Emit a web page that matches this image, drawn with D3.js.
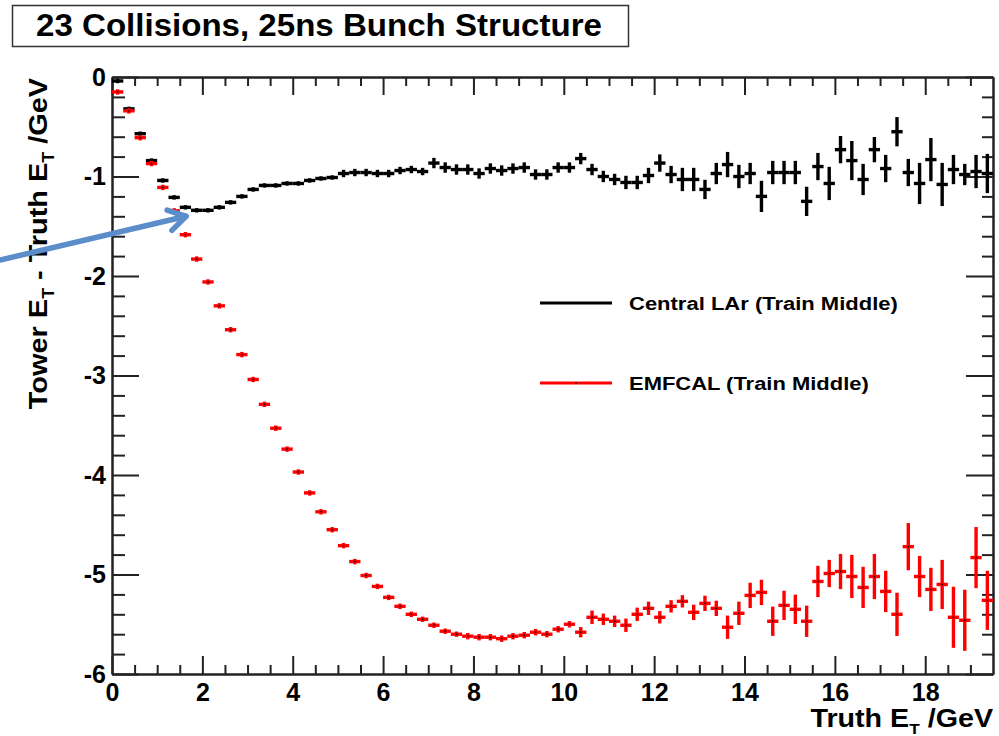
<!DOCTYPE html>
<html>
<head>
<meta charset="utf-8">
<script src="https://cdn.jsdelivr.net/npm/d3@7"></script>
<style>
  html, body { margin: 0; padding: 0; background: #fff; }
  svg { display: block; font-family: "Liberation Sans", Arial, Helvetica, sans-serif; font-weight: bold; }
</style>
</head>
<body>
<svg id="chart" width="999" height="736"></svg>
<script>
'use strict';

// histogram bins: low edges in GeV, each bin 0.25 GeV wide
var binLow = [0, 0.25, 0.5, 0.75, 1, 1.25, 1.5, 1.75, 2, 2.25, 2.5, 2.75, 3, 3.25, 3.5, 3.75,
    4, 4.25, 4.5, 4.75, 5, 5.25, 5.5, 5.75, 6, 6.25, 6.5, 6.75, 7, 7.25, 7.5, 7.75,
    8, 8.25, 8.5, 8.75, 9, 9.25, 9.5, 9.75, 10, 10.25, 10.5, 10.75, 11, 11.25, 11.5, 11.75,
    12, 12.25, 12.5, 12.75, 13, 13.25, 13.5, 13.75, 14, 14.25, 14.5, 14.75, 15, 15.25, 15.5, 15.75,
    16, 16.25, 16.5, 16.75, 17, 17.25, 17.5, 17.75, 18, 18.25, 18.5, 18.75, 19, 19.25];
var binWidth = 0.25;

// Central LAr (Train Middle)
var larValues = [-0.04, -0.32, -0.57, -0.84, -1.04, -1.21, -1.31, -1.34, -1.34, -1.31, -1.26, -1.20,
    -1.13, -1.09, -1.09, -1.07, -1.07, -1.04, -1.02, -1.01, -0.97, -0.96, -0.96, -0.97,
    -0.97, -0.94, -0.93, -0.95, -0.865, -0.91, -0.93, -0.93, -0.97, -0.92, -0.94, -0.92,
    -0.91, -0.98, -0.98, -0.91, -0.91, -0.82, -0.93, -1.00, -1.03, -1.06, -1.06, -0.99,
    -0.865, -0.98, -1.03, -1.03, -1.13, -0.97, -0.88, -1.00, -0.97, -1.20, -0.96, -0.96,
    -0.96, -1.25, -0.90, -1.07, -0.73, -0.84, -1.03, -0.73, -0.92, -0.55, -0.96, -1.07,
    -0.83, -1.08, -0.93, -0.98, -0.95, -0.97];
var larErrors = [0.005, 0.005, 0.005, 0.005, 0.005, 0.005, 0.005, 0.005, 0.005, 0.005, 0.005, 0.005,
    0.005, 0.005, 0.005, 0.005, 0.005, 0.005, 0.005, 0.005, 0.02, 0.02, 0.02, 0.02,
    0.02, 0.02, 0.02, 0.02, 0.035, 0.035, 0.035, 0.035, 0.035, 0.035, 0.035, 0.035,
    0.035, 0.035, 0.035, 0.035, 0.035, 0.04, 0.04, 0.04, 0.04, 0.05, 0.05, 0.06,
    0.07, 0.07, 0.1, 0.1, 0.08, 0.09, 0.11, 0.1, 0.09, 0.14, 0.1, 0.1,
    0.1, 0.13, 0.12, 0.15, 0.12, 0.18, 0.14, 0.11, 0.12, 0.13, 0.12, 0.19,
    0.2, 0.2, 0.13, 0.09, 0.15, 0.18];

// EMFCAL (Train Middle)
var emfValues = [-0.15, -0.34, -0.61, -0.87, -1.11, -1.345, -1.585, -1.83, -2.06, -2.30, -2.54, -2.79,
    -3.04, -3.29, -3.53, -3.74, -3.97, -4.18, -4.37, -4.55, -4.71, -4.87, -5.01, -5.12,
    -5.23, -5.32, -5.40, -5.45, -5.51, -5.57, -5.60, -5.62, -5.63, -5.63, -5.645, -5.62,
    -5.61, -5.58, -5.60, -5.55, -5.50, -5.58, -5.43, -5.45, -5.47, -5.51, -5.40, -5.34,
    -5.43, -5.32, -5.27, -5.38, -5.29, -5.34, -5.53, -5.39, -5.21, -5.18, -5.47, -5.31,
    -5.35, -5.47, -5.07, -4.99, -4.97, -5.02, -5.13, -5.02, -5.17, -5.40, -4.72, -5.02,
    -5.15, -5.10, -5.43, -5.46, -4.83, -5.26];
var emfErrors = [0.01, 0.01, 0.01, 0.01, 0.01, 0.01, 0.01, 0.01, 0.01, 0.01, 0.01, 0.01,
    0.01, 0.01, 0.01, 0.01, 0.01, 0.01, 0.01, 0.01, 0.01, 0.01, 0.01, 0.01,
    0.01, 0.01, 0.01, 0.01, 0.01, 0.01, 0.01, 0.015, 0.015, 0.015, 0.015, 0.015,
    0.015, 0.015, 0.015, 0.015, 0.015, 0.035, 0.05, 0.04, 0.04, 0.05, 0.05, 0.05,
    0.045, 0.045, 0.045, 0.06, 0.06, 0.06, 0.1, 0.1, 0.11, 0.11, 0.13, 0.13,
    0.13, 0.14, 0.14, 0.12, 0.16, 0.2, 0.19, 0.21, 0.19, 0.2, 0.22, 0.19,
    0.2, 0.23, 0.29, 0.29, 0.29, 0.28];

var xMajorTicks = [0, 2, 4, 6, 8, 10, 12, 14, 16, 18];
var yMajorTicks = [0, -1, -2, -3, -4, -5, -6];

var titleText = '23 Collisions, 25ns Bunch Structure';
var seriesNames = ['Central LAr (Train Middle)', 'EMFCAL (Train Middle)'];
var seriesColors = ['#000000', '#ff0000'];

// blue annotation arrow, in data units (tail, head)
var arrowTail = [-2.48, -1.84];
var arrowHead = [1.64, -1.40];


var svg = d3.select('#chart');

var x = d3.scaleLinear().domain([0, 19.5]).range([112, 993]);
var y = d3.scaleLinear().domain([0, -6]).range([77, 674]);

var xMinor = d3.range(0, 19.5, 0.5).filter(function(d) { return d % 2 !== 0; });
var yMinor = d3.range(0, -6.01, -0.2).filter(function(d) { return Math.abs(d - Math.round(d)) > 0.01; });

function styleAxis(g) {
    g.attr('font-family', null).attr('font-size', null);
    g.select('.domain').attr('stroke', '#222').attr('stroke-width', 2);
    g.selectAll('.tick line').attr('stroke', '#222').attr('stroke-width', 2);
    g.selectAll('.tick text').attr('fill', '#000').style('font-size', '25px');
}

var fmt = function(d) { return String(d); };

// bottom axis, ticks pointing into the pad
svg.append('g')
    .attr('transform', 'translate(0,' + y(-6) + ')')
    .call(d3.axisBottom(x).tickValues(xMajorTicks).tickSizeInner(-18).tickSizeOuter(0).tickPadding(9).tickFormat(fmt))
    .call(styleAxis);
svg.append('g')
    .attr('transform', 'translate(0,' + y(-6) + ')')
    .call(d3.axisBottom(x).tickValues(xMinor).tickSizeInner(-9).tickSizeOuter(0).tickFormat(''))
    .call(styleAxis);

// top axis (ticks only)
svg.append('g')
    .attr('transform', 'translate(0,' + y(0) + ')')
    .call(d3.axisTop(x).tickValues(xMajorTicks).tickSizeInner(-18).tickSizeOuter(0).tickFormat(''))
    .call(styleAxis);
svg.append('g')
    .attr('transform', 'translate(0,' + y(0) + ')')
    .call(d3.axisTop(x).tickValues(xMinor).tickSizeInner(-9).tickSizeOuter(0).tickFormat(''))
    .call(styleAxis);

// left axis
svg.append('g')
    .attr('transform', 'translate(' + x(0) + ',0)')
    .call(d3.axisLeft(y).tickValues(yMajorTicks).tickSizeInner(-27).tickSizeOuter(0).tickPadding(6).tickFormat(fmt))
    .call(styleAxis);
svg.append('g')
    .attr('transform', 'translate(' + x(0) + ',0)')
    .call(d3.axisLeft(y).tickValues(yMinor).tickSizeInner(-13).tickSizeOuter(0).tickFormat(''))
    .call(styleAxis);

// right axis (ticks only)
svg.append('g')
    .attr('transform', 'translate(' + x(19.5) + ',0)')
    .call(d3.axisRight(y).tickValues(yMajorTicks).tickSizeInner(-27).tickSizeOuter(0).tickFormat(''))
    .call(styleAxis);
svg.append('g')
    .attr('transform', 'translate(' + x(19.5) + ',0)')
    .call(d3.axisRight(y).tickValues(yMinor).tickSizeInner(-11).tickSizeOuter(0).tickFormat(''))
    .call(styleAxis);


// histogram markers: bin-wide horizontal bar + vertical error bar
function drawSeries(values, errors, color, width, dots) {
    var data = values.map(function(v, i) {
        return { lo: binLow[i], hi: binLow[i] + binWidth, c: binLow[i] + binWidth / 2, v: v, e: errors[i] };
    });
    var g = svg.append('g');
    g.selectAll('line.h').data(data).enter().append('line')
        .attr('class', 'h')
        .attr('x1', function(d) { return x(d.lo); })
        .attr('x2', function(d) { return x(d.hi); })
        .attr('y1', function(d) { return y(d.v); })
        .attr('y2', function(d) { return y(d.v); })
        .attr('stroke', color)
        .attr('stroke-width', width);
    g.selectAll('line.v').data(data).enter().append('line')
        .attr('class', 'v')
        .attr('x1', function(d) { return x(d.c); })
        .attr('x2', function(d) { return x(d.c); })
        .attr('y1', function(d) { return y(d.v + d.e) - width / 2; })
        .attr('y2', function(d) { return y(d.v - d.e) + width / 2; })
        .attr('stroke', color)
        .attr('stroke-width', width);
    if (dots) {
        g.selectAll('rect.m').data(data).enter().append('rect')
            .attr('x', function(d) { return x(d.c) - 0.7; })
            .attr('y', function(d) { return y(d.v) - 0.7; })
            .attr('width', 1.4)
            .attr('height', 1.4)
            .attr('fill', '#000');
    }
}

drawSeries(larValues, larErrors, seriesColors[0], 3.4, false);
drawSeries(emfValues, emfErrors, seriesColors[1], 3.4, true);


// stretch a text horizontally (in its own frame) to a target width
function fitWidth(g, text, width) {
    var w = text.node().getBBox().width;
    var t = g.attr('transform') || '';
    g.attr('transform', t + ' scale(' + (width / w) + ',1)');
}

// legend
[303, 383].forEach(function(ly, i) {
    svg.append('line')
        .attr('x1', 540).attr('x2', 612)
        .attr('y1', ly).attr('y2', ly)
        .attr('stroke', seriesColors[i])
        .attr('stroke-width', 3);
    if (i === 1) {
        svg.append('rect').attr('x', 575.3).attr('y', ly - 0.7).attr('width', 1.4).attr('height', 1.4).attr('fill', '#000');
    }
    var lg = svg.append('g').attr('transform', 'translate(629,' + (ly + 7) + ')');
    var lt = lg.append('text').style('font-size', '19px').text(seriesNames[i]);
    fitWidth(lg, lt, i === 0 ? 269 : 240);
});


// title box
svg.append('rect')
    .attr('x', 12.5).attr('y', 5.5)
    .attr('width', 616).attr('height', 41)
    .attr('fill', '#fff')
    .attr('stroke', '#333')
    .attr('stroke-width', 1.5);
var tg = svg.append('g').attr('transform', 'translate(319,36)');
var tt = tg.append('text')
    .attr('text-anchor', 'middle')
    .style('font-size', '31px')
    .text(titleText);
fitWidth(tg, tt, 566);


// axis titles
var xg = svg.append('g').attr('transform', 'translate(993,727)');
var xTitle = xg.append('text')
    .attr('text-anchor', 'end')
    .style('font-size', '25px');
xTitle.append('tspan').text('Truth E');
xTitle.append('tspan').attr('dy', 7).style('font-size', '15px').text('T');
xTitle.append('tspan').attr('dy', -7).text(' /GeV');
fitWidth(xg, xTitle, 183);

var yg = svg.append('g').attr('transform', 'translate(47,78) rotate(-90)');
var yTitle = yg.append('text')
    .attr('text-anchor', 'end')
    .style('font-size', '26px');
yTitle.append('tspan').text('Tower E');
yTitle.append('tspan').attr('dy', 7).style('font-size', '16px').text('T');
yTitle.append('tspan').attr('dy', -7).text(' - Truth E');
yTitle.append('tspan').attr('dy', 7).style('font-size', '16px').text('T');
yTitle.append('tspan').attr('dy', -7).text('  /GeV');
fitWidth(yg, yTitle, 332);


// annotation arrow
var ax0 = x(arrowTail[0]), ay0 = y(arrowTail[1]);
var ax1 = x(arrowHead[0]), ay1 = y(arrowHead[1]);
var ang = Math.atan2(ay1 - ay0, ax1 - ax0);
var headLen = 20, headAng = 0.55;
var arrow = svg.append('g')
    .attr('stroke', '#5b8dcb')
    .attr('stroke-width', 5.5)
    .attr('stroke-linecap', 'round')
    .attr('stroke-linejoin', 'round')
    .attr('fill', 'none');
arrow.append('path')
    .attr('d', d3.line()([[ax0, ay0], [ax1, ay1]]));
arrow.append('path')
    .attr('d', d3.line()([
        [ax1 - headLen * Math.cos(ang - headAng), ay1 - headLen * Math.sin(ang - headAng)],
        [ax1, ay1],
        [ax1 - headLen * Math.cos(ang + headAng), ay1 - headLen * Math.sin(ang + headAng)]
    ]));
</script>
</body>
</html>
